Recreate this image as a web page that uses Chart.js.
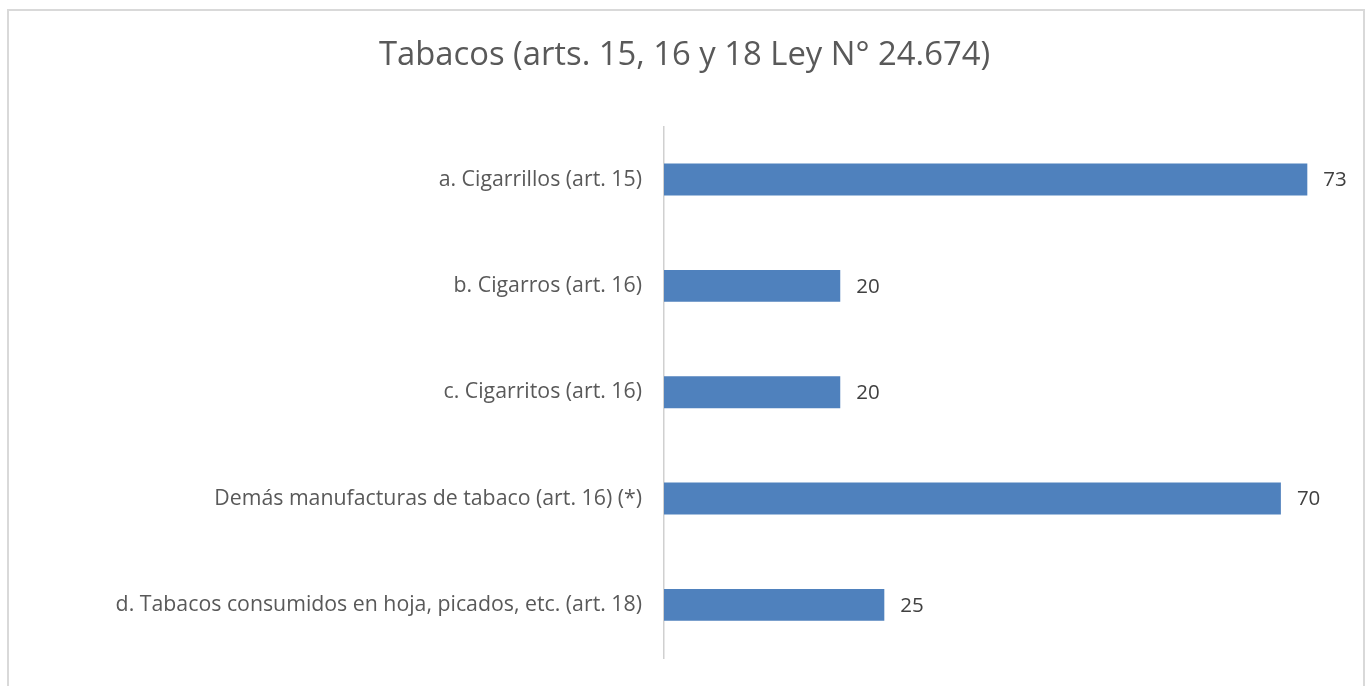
<!DOCTYPE html>
<html>
<head>
<meta charset="utf-8">
<script src="https://cdn.jsdelivr.net/npm/chart.js@4/dist/chart.umd.min.js"></script>
<style>
  html, body { margin: 0; padding: 0; background: #fff; overflow: hidden; }
  #frame { position: absolute; left: 7px; top: 9px; width: 1358px; height: 700px; border: 2px solid #d9d9d9; box-sizing: border-box; }
  #wrap { position: absolute; left: 0; top: 0; width: 1369px; height: 686px; }
</style>
</head>
<body>
<div id="frame"></div>
<div id="wrap"><canvas id="c" width="1369" height="686"></canvas></div>
<script>
const chartTitle = 'Tabacos (arts. 15, 16 y 18 Ley N° 24.674)';
const categories = [
  'a. Cigarrillos (art. 15)',
  'b. Cigarros (art. 16)',
  'c. Cigarritos (art. 16)',
  'Demás manufacturas de tabaco (art. 16) (*)',
  'd. Tabacos consumidos en hoja, picados, etc. (art. 18)'
];
const rates = [73, 20, 20, 70, 25];

const FONT = '"Open Sans", "Liberation Sans", sans-serif';

// Writes each bar's value just past its end
const valueLabels = {
  id: 'valueLabels',
  afterDatasetsDraw(chart) {
    const ctx = chart.ctx;
    const meta = chart.getDatasetMeta(0);
    ctx.save();
    ctx.font = '20.5px ' + FONT;
    ctx.fillStyle = '#404040';
    ctx.textAlign = 'left';
    ctx.textBaseline = 'middle';
    meta.data.forEach((bar, i) => {
      ctx.fillText(String(rates[i]), bar.x + 16, bar.y + 1);
    });
    ctx.restore();
  }
};

new Chart(document.getElementById('c'), {
  type: 'bar',
  data: {
    labels: categories,
    datasets: [{
      data: rates,
      backgroundColor: '#4f81bd',
      borderWidth: 0,
      barPercentage: 0.3,
      categoryPercentage: 1.0
    }]
  },
  plugins: [valueLabels],
  options: {
    indexAxis: 'y',
    responsive: false,
    animation: false,
    layout: { padding: { left: 0, right: 0, top: 0, bottom: 28 } },
    plugins: {
      legend: { display: false },
      tooltip: { enabled: false },
      title: {
        display: true,
        text: chartTitle,
        color: '#595959',
        font: { family: FONT, size: 32.8, weight: 'normal' },
        padding: { top: 36, bottom: 51 }
      }
    },
    scales: {
      x: {
        display: false,
        min: 0,
        max: 80
      },
      y: {
        afterFit(scale) {
          scale.width = 664;
          scale.paddingTop = 0;
          scale.paddingBottom = 0;
        },
        grid: { display: false, drawTicks: false },
        border: { display: true, color: '#d0d0d0', width: 1.5 },
        ticks: {
          color: '#595959',
          padding: 22,
          font: { family: FONT, size: 21.3 }
        }
      }
    }
  }
});
</script>
</body>
</html>
